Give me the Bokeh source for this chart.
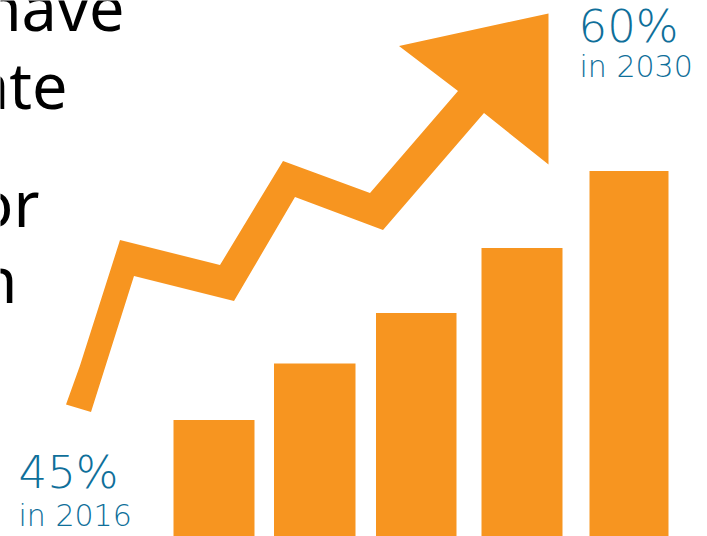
from bokeh.plotting import figure
from bokeh.embed import file_html
from bokeh.resources import INLINE
from bokeh.core.properties import value

ORANGE = "#F79520"
TEAL = "#0F6F9A"

# Column chart: left edge, right edge and height of each bar
bar_left = [173, 273.5, 375.5, 481, 589]
bar_right = [254, 355, 456, 562, 668]
bar_height = [116.5, 173, 223.5, 288.5, 365.5]

# Outline of the rising arrow
arrow_x = [65.5, 79.5, 119.5, 219.5, 282.5, 369.5, 457.5, 398.5, 548, 548, 483.5, 382.5, 294.5, 233.5, 133.5, 90.5]
arrow_y = [132, 171, 296.5, 271.5, 375.5, 343.5, 445.5, 490.5, 523, 372, 423.5, 306.5, 339.5, 235.5, 260.5, 124.5]

# Cropped body copy on the left edge
body_words = ["have", "ate", "or", "n"]
body_right = [124, 67, 39, 17]
body_base = [530, 452, 334, 258]

# Callouts at both ends of the arrow
pct_labels = ["45%", "60%"]
pct_x = [18, 578]
pct_y = [64, 510]
year_labels = ["in 2016", "in 2030"]
year_x = [18, 579]
year_y = [21, 470]

p = figure(width=707, height=536, x_range=(0, 707), y_range=(0, 536),
           output_backend="svg", toolbar_location=None, min_border=0)
p.axis.visible = False
p.grid.visible = False
p.outline_line_color = None

p.quad(left=bar_left, right=bar_right, bottom=0, top=bar_height,
       fill_color=ORANGE, line_color=None)
p.patch(arrow_x, arrow_y, fill_color=ORANGE, line_color=None)

p.text(body_right, body_base, text=body_words, text_font=value("Noto Sans"),
       text_font_size="63px", text_color="#000000", text_align="right",
       text_baseline="alphabetic")
p.text(pct_x, pct_y, text=pct_labels, text_font=value("DejaVu Sans Light"),
       text_font_size="45px", text_color=TEAL, text_align="left",
       text_baseline="alphabetic")
p.text(year_x, year_y, text=year_labels, text_font=value("DejaVu Sans Light"),
       text_font_size="30px", text_color=TEAL, text_align="left",
       text_baseline="alphabetic")

open("out.html", "w").write(file_html(p, INLINE))
